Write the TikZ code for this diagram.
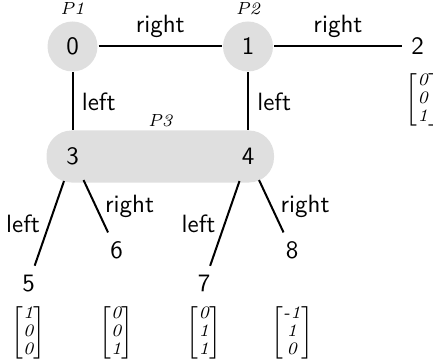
\documentclass[tikz,border=0pt]{standalone}
\usepackage{amsmath}
\usetikzlibrary{positioning,fit,backgrounds}

\newcommand{\colvec}[3]{$\renewcommand{\arraystretch}{0.9}\begin{bmatrix}\textit{#1}\\\textit{#2}\\\textit{#3}\end{bmatrix}$}

\begin{document}
\begin{tikzpicture}[auto,on grid,thick,
    main node/.style={circle,fill=gray!25,minimum size=20pt,inner sep=0pt,font=\sffamily},
    leaf node/.style={font=\sffamily},
    vec node/.style={font=\scriptsize,inner sep=0pt},
    part/.style={font=\scriptsize\itshape,inner sep=2pt}]

    \useasboundingbox (-29pt,18.6pt) rectangle (144.2pt,-125.4pt);

    % Top row
    \node[main node,label={[part]above:P1}] (0) at (0,0) {0};
    \node[main node,label={[part]above:P2}] (1) [right=70.2pt of 0] {1};
    \node[leaf node] (2) [right=67.8pt of 1] {2};

    % Middle row and part P3
    \node[main node] (3) [below=44pt of 0] {3};
    \node[main node] (4) [below=44pt of 1] {4};
    \begin{scope}[on background layer]
      \node[fit=(3)(4),fill=gray!25,rounded corners=10pt,inner sep=0pt,
        label={[part,inner sep=1pt]above:P3}] (p3) {};
    \end{scope}

    % Leaves
    \node[leaf node] (5) [below left=50.8pt and 17.6pt of 3] {5};
    \node[leaf node] (6) [below right=37.6pt and 17.6pt of 3] {6};
    \node[leaf node] (7) [below left=50.8pt and 17.6pt of 4] {7};
    \node[leaf node] (8) [below right=37.6pt and 17.6pt of 4] {8};

    % Vectors
    \node[vec node] (v2) [below right=21.2pt and 2.2pt of 2] {\colvec{0}{0}{1}};
    \node[vec node] (v5) [below=19.6pt of 5] {\colvec{1}{0}{0}};
    \node[vec node] (v6) [below=33pt of 6] {\colvec{0}{0}{1}};
    \node[vec node] (v7) [below=19.6pt of 7] {\colvec{0}{1}{1}};
    \node[vec node] (v8) [below=33pt of 8] {\colvec{-1}{1}{0}};

    \path[every node/.style={font=\sffamily}]
    (0) edge node {right} (1)
    edge node {left} (3)
    (1) edge node {right} (2)
    edge node {left} (4)
    (3) edge node[left] {left} (5)
    edge node[right] {right} (6)
    (4) edge node[left] {left} (7)
    edge node[right] {right} (8);
\end{tikzpicture}
\end{document}
